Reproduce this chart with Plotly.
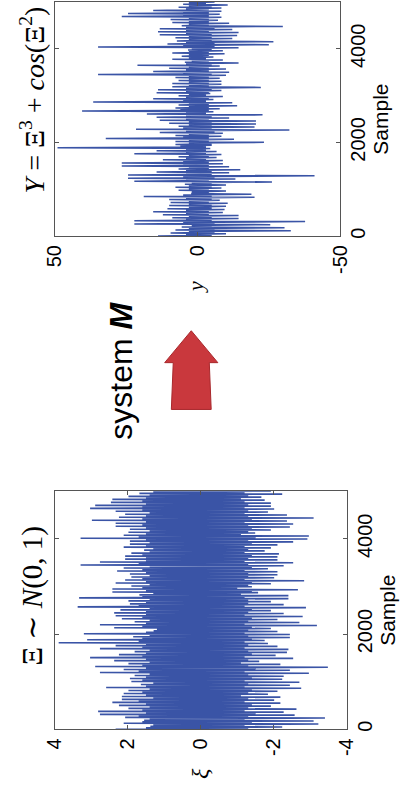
import numpy as np
import plotly.graph_objects as go

W, H = 410, 804

# Xi ~ N(0,1): per slice (sample order 0 -> 5000) outer extremes and edges of the solid core
xi_upper = [2.33, 1.38, 2.11, 1.55, 2.07, 2.76, 2.81, 1.98, 2.24, 2.42, 2.16, 2.16, 2.11, 1.98, 2.59, 1.64, 1.90, 1.94, 1.81, 2.76, 2.11, 2.89, 1.98, 2.37, 3.03, 2.24,
            1.81, 2.76, 2.33, 3.89, 3.11, 1.85, 3.20, 1.29, 2.37, 2.76, 1.81, 2.16, 2.33, 2.37, 2.20, 3.37, 1.94, 1.98, 3.33, 1.68, 2.42, 2.42, 1.90, 2.33, 2.07, 1.90,
            1.94, 2.29, 2.11, 3.29, 2.76, 2.07, 2.07, 1.90, 1.55, 2.11, 1.94, 1.94, 3.29, 2.11, 1.98, 1.94, 2.33, 2.33, 2.98, 2.24, 2.07, 2.33, 3.03, 2.89, 2.46, 2.42, 1.98, 1.68]
xi_lower = [-2.23, -3.22, -3.09, -3.40, -2.57, -2.27, -2.62, -1.92, -2.18, -2.01, -2.18, -1.84, -2.10, -2.75, -2.44, -2.70, -2.23, -2.27, -2.96, -2.44, -3.48, -2.18, -1.60, -2.53, -2.05, -2.36,
            -2.40, -2.10, -1.84, -1.75, -2.44, -2.44, -2.10, -1.92, -3.18, -2.70, -2.10, -2.79, -2.27, -1.92, -2.88, -2.27, -1.92, -2.40, -2.40, -1.57, -2.66, -1.40, -1.92, -2.83, -2.01, -2.10,
            -2.10, -1.84, -2.27, -2.53, -2.10, -2.10, -2.14, -1.75, -1.92, -2.10, -2.53, -2.92, -2.96, -1.49, -1.92, -2.44, -2.53, -2.36, -3.09, -2.36, -1.84, -2.01, -1.92, -1.92, -1.75, -1.66, -2.23, -1.92]
xi_core_upper = [1.5, 1.3, 1.6, 1.4, 1.7, 1.5, 1.6, 1.4, 1.5, 1.7, 1.3, 1.5, 1.6, 1.4, 1.5, 1.3, 1.6, 1.5, 1.4, 1.7, 1.5, 1.6, 1.4, 1.5, 1.6, 1.5,
                 1.4, 1.6, 1.5, 1.7, 1.6, 1.4, 1.5, 1.2, 1.6, 1.5, 1.4, 1.6, 1.5, 1.5, 1.4, 1.7, 1.5, 1.4, 1.6, 1.3, 1.5, 1.6, 1.4, 1.5, 1.6, 1.4,
                 1.5, 1.6, 1.4, 1.7, 1.5, 1.5, 1.6, 1.4, 1.3, 1.5, 1.4, 1.5, 1.7, 1.5, 1.4, 1.5, 1.6, 1.5, 1.6, 1.5, 1.4, 1.6, 1.6, 1.5, 1.6, 1.5, 1.4, 1.3]
xi_core_lower = [-1.3, -1.2, -1.4, -1.2, -1.3, -1.5, -1.2, -1.3, -1.4, -1.2, -1.3, -1.1, -1.3, -1.4, -1.2, -1.3, -1.2, -1.4, -1.3, -1.2, -1.5, -1.3, -1.1, -1.3, -1.2, -1.4,
                 -1.3, -1.2, -1.3, -1.2, -1.4, -1.3, -1.2, -1.3, -1.4, -1.2, -1.3, -1.4, -1.2, -1.3, -1.4, -1.2, -1.3, -1.3, -1.2, -1.1, -1.4, -1.0, -1.3, -1.4, -1.2, -1.3,
                 -1.3, -1.2, -1.4, -1.3, -1.2, -1.3, -1.4, -1.2, -1.3, -1.2, -1.4, -1.3, -1.5, -1.1, -1.3, -1.4, -1.3, -1.2, -1.4, -1.3, -1.2, -1.3, -1.2, -1.3, -1.2, -1.1, -1.3, -1.2]

# Y = Xi^3 + cos(Xi^2): per slice outer extremes and edges of the solid core
y_upper = [13.8, 9.4, 7.7, 5.5, 22.1, 22.1, 8.8, 12.1, 15.5, 10.5, 9.9, 9.4, 9.9, 18.8, 2.2, 6.6, 7.7, 4.4, 22.1, 24.3, 24.3, 14.3, 6.6, 26.5,
           26.5, 12.1, 6.6, 22.1, 14.3, 49.0, 7.7, 7.7, 32.1, 7.7, 13.2, 21.5, 6.6, 9.9, 13.2, 14.3, 17.7, 40.4, 7.7, 6.6, 36.5, 15.5, 6.6, 14.3, 13.8, 8.8,
           8.8, 6.6, 7.7, 34.8, 15.5, 9.9, 21.0, 4.4, 8.8, 5.5, 8.8, 3.3, 34.8, 10.5, 7.2, 7.7, 13.2, 13.8, 13.2, 5.5, 8.8, 9.4, 26.5, 24.3, 15.5, 6.6, 5.0]
y_lower = [-10.0, -32.7, -30.5, -25.5, -37.7, -14.4, -14.4, -8.9, -9.5, -10.0, -10.6, -7.8, -20.0, -18.9, -10.0, -8.4, -10.0, -26.1, -13.3, -41.0, -11.1, -15.0, -11.1, -8.9,
           -8.9, -6.7, -8.4, -6.7, -4.5, -5.0, -23.3, -12.8, -8.4, -8.9, -32.2, -20.0, -20.5, -20.5, -11.1, -22.8, -5.6, -7.8, -13.9, -12.2, -5.6, -8.9, -4.5, -8.4, -22.2, -8.4,
           -8.4, -7.8, -10.0, -11.1, -10.0, -7.8, -14.4, -8.9, -5.6, -9.5, -8.9, -14.4, -25.0, -26.6, -12.2, -13.9, -14.4, -12.2, -29.9, -11.1, -7.2, -8.4, -7.8, -8.4, -8.4, -10.6, -6.0]
y_core_upper = [4, 3, 3, 2, 5, 4, 3, 4, 4, 3, 3, 3, 4, 5, 2, 3, 3, 2, 4, 5, 4, 4, 3, 5,
                5, 4, 3, 4, 4, 6, 3, 3, 5, 3, 4, 5, 3, 3, 4, 4, 4, 6, 3, 3, 5, 4, 3, 4, 4, 3,
                3, 3, 3, 5, 4, 3, 4, 2, 3, 3, 3, 2, 5, 4, 3, 3, 4, 4, 4, 3, 3, 3, 5, 5, 4, 3, 3]
y_core_lower = [-5, -6, -6, -5, -6, -5, -5, -4, -4, -5, -5, -4, -5, -5, -4, -4, -5, -5, -4, -6, -5, -5, -4, -4,
                -4, -3, -4, -3, -3, -3, -5, -4, -4, -4, -6, -5, -5, -5, -4, -5, -3, -4, -4, -4, -3, -4, -3, -4, -5, -4,
                -4, -4, -4, -5, -4, -4, -5, -4, -3, -4, -4, -5, -6, -6, -5, -5, -5, -4, -6, -4, -4, -4, -4, -4, -4, -5, -3]

N_SAMPLES = 5000
xi_ticks = [4, 2, 0, -2, -4]
xi_ticktext = ["4", "2", "0", "-2", "-4"]
y_ticks = [50, 0, -50]
y_ticktext = ["50", "0", "-50"]
sample_ticks = [0, 2000, 4000]
sample_ticktext = ["0", "2000", "4000"]


def weave(up, lo, cup, clo):
    out = []
    for a, b, c, d in zip(up, lo, cup, clo):
        out += [a, d, c, b]
    return out


xi_vals = weave(xi_upper, xi_lower, xi_core_upper, xi_core_lower)
y_vals = weave(y_upper, y_lower, y_core_upper, y_core_lower)
xi_idx = np.linspace(0, N_SAMPLES, len(xi_vals))
y_idx = np.linspace(0, N_SAMPLES, len(y_vals))

BLUE = "#3a54a6"
FRAME = "#555555"


def px(x):
    return x / W


def py(y):
    return 1 - y / H


fig = go.Figure()
fig.add_trace(go.Scatter(x=y_vals, y=y_idx, mode="lines",
                         line=dict(color=BLUE, width=1.5, simplify=False),
                         xaxis="x", yaxis="y", hoverinfo="skip", showlegend=False))
fig.add_trace(go.Scatter(x=xi_vals, y=xi_idx, mode="lines",
                         line=dict(color=BLUE, width=1.6, simplify=False),
                         xaxis="x2", yaxis="y2", hoverinfo="skip", showlegend=False))

tickfont = dict(family="Liberation Sans, Arial, sans-serif", size=20, color="black")
titlefont = dict(family="Liberation Sans, Arial, sans-serif", size=21, color="black")
common_x = dict(showline=True, linecolor=FRAME, linewidth=1, mirror="ticks", ticks="inside",
                ticklen=4, tickcolor=FRAME, showgrid=False, zeroline=False, tickangle=-90,
                tickfont=tickfont, fixedrange=True)
common_y = dict(showline=True, linecolor=FRAME, linewidth=1, mirror="ticks", ticks="inside",
                ticklen=4, tickcolor=FRAME, showgrid=False, zeroline=False, tickangle=-90,
                tickfont=tickfont, side="right", range=[0, N_SAMPLES], fixedrange=True,
                tickvals=sample_ticks, ticktext=sample_ticktext,
                title=dict(text="Sample", font=titlefont, standoff=4))

fig.update_layout(
    width=W, height=H,
    margin=dict(l=0, r=0, t=0, b=0),
    paper_bgcolor="white", plot_bgcolor="white",
    xaxis=dict(common_x, domain=[px(46), px(347)], range=[50, -50], tickvals=y_ticks,
               ticktext=y_ticktext, anchor="y"),
    yaxis=dict(common_y, domain=[py(237), py(2)], anchor="x"),
    xaxis2=dict(common_x, domain=[px(46), px(354)], range=[4, -4], tickvals=xi_ticks,
                ticktext=xi_ticktext, anchor="y2"),
    yaxis2=dict(common_y, domain=[py(732), py(493)], anchor="x2"),
)

serif = "Liberation Serif, DejaVu Serif, serif"
annots = [
    dict(x=px(23), y=py(598), text="Ξ ∼ <i>N</i>(0, 1)", font=dict(family=serif, size=29, color="black")),
    dict(x=px(23), y=py(100), text="<i>Y</i> = Ξ<sup>3</sup> + <i>cos</i>(Ξ<sup>2</sup>)",
         font=dict(family=serif, size=28, color="black")),
    dict(x=px(199), y=py(776), text="<i>ξ</i>", font=dict(family=serif, size=24, color="black")),
    dict(x=px(195), y=py(288), text="<i>y</i>", font=dict(family=serif, size=22, color="black")),
    dict(x=px(116), y=py(372), text="system <b><i>M</i></b>",
         font=dict(family="Liberation Sans, Arial, sans-serif", size=32, color="black")),
]
for a in annots:
    fig.add_annotation(xref="paper", yref="paper", showarrow=False, textangle=-90,
                       xanchor="center", yanchor="middle", **a)

# red block arrow (decoration)
arrow_pts = [(190, 332), (218, 364), (209, 364), (211, 411), (169, 411), (171, 364), (162, 364)]
path = "M " + " L ".join(f"{px(x):.5f},{py(y):.5f}" for x, y in arrow_pts) + " Z"
fig.add_shape(type="path", xref="paper", yref="paper", path=path,
              fillcolor="#c9383d", line=dict(color="#a8282c", width=1))

fig.write_html("out.html")
